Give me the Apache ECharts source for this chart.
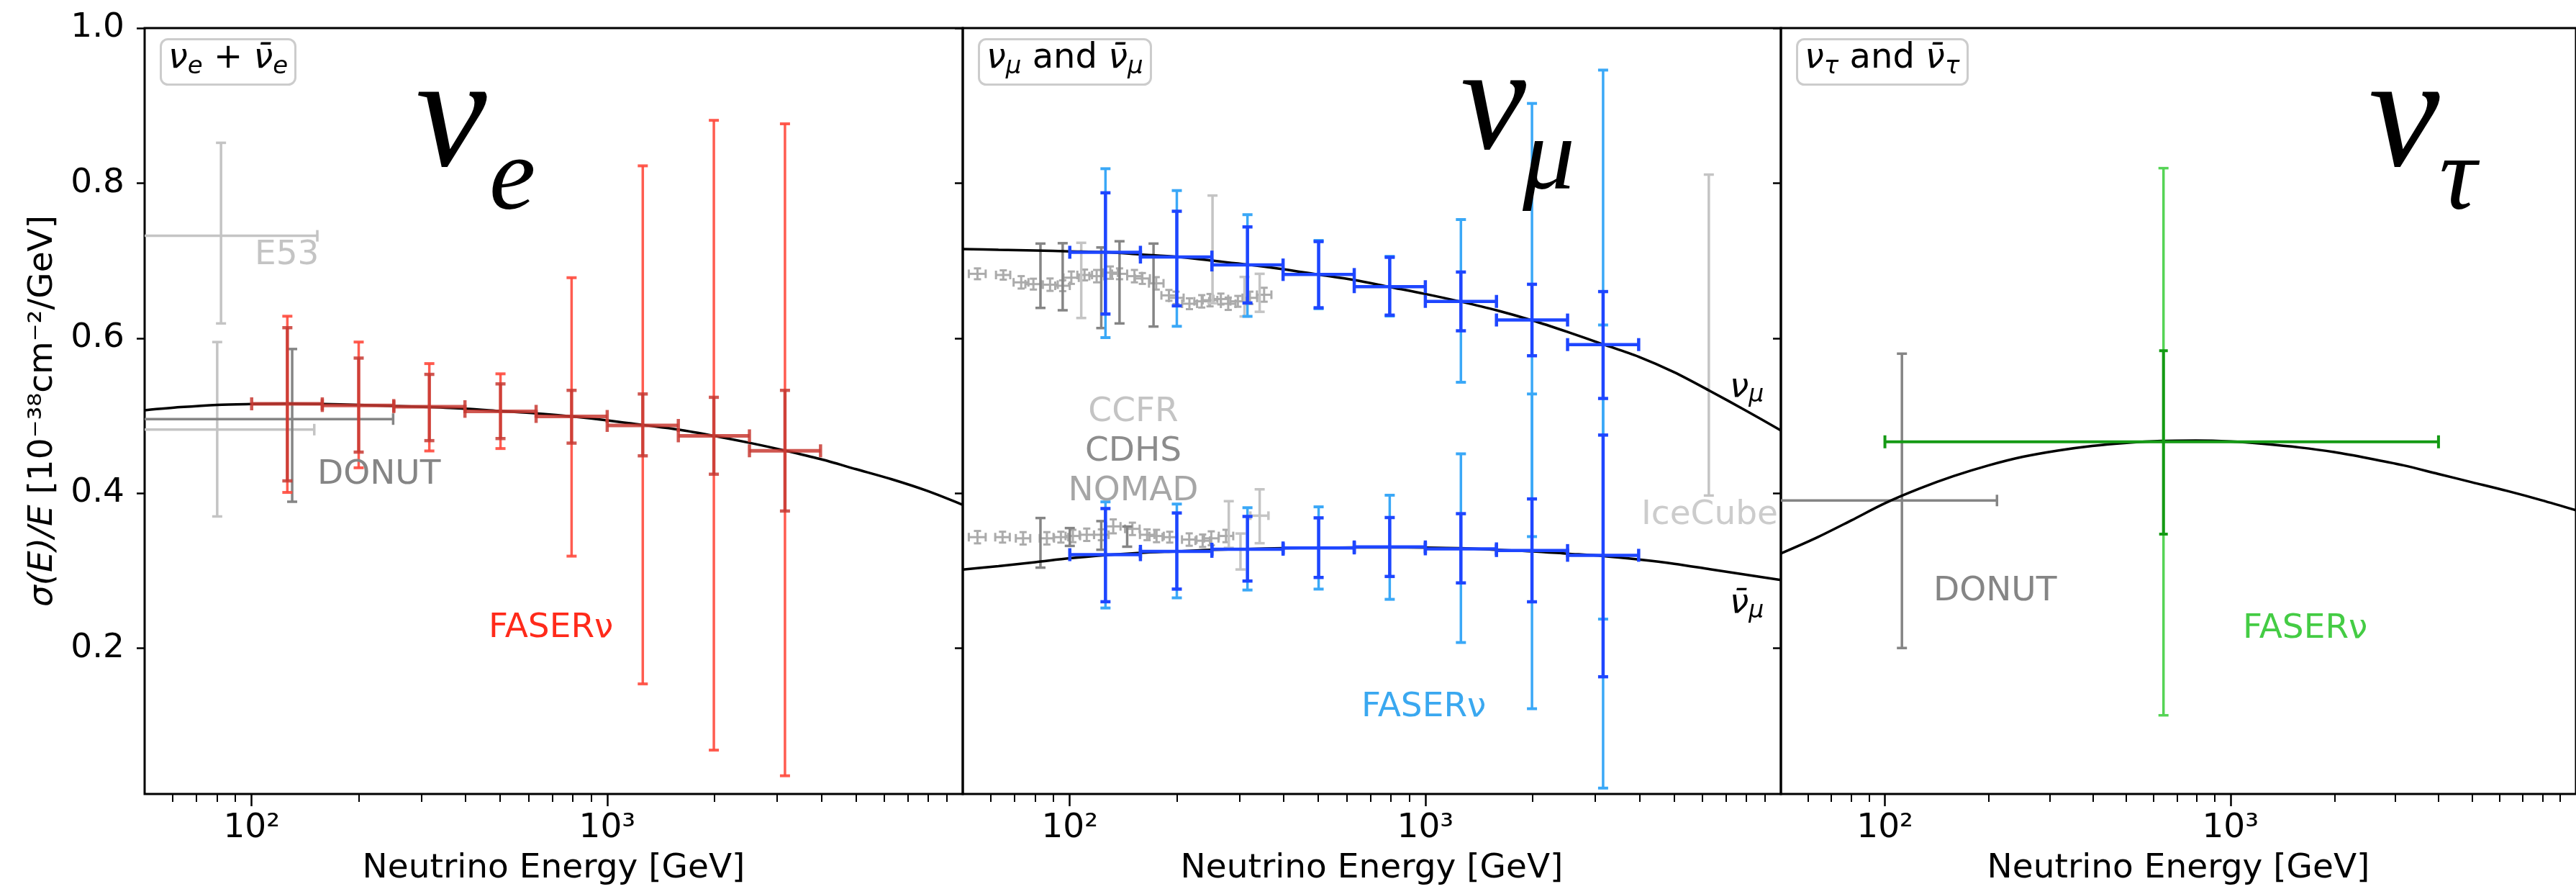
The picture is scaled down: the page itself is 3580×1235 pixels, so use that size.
<!DOCTYPE html>
<html><head><meta charset="utf-8">
<script src="https://cdn.jsdelivr.net/npm/echarts@6/dist/echarts.min.js"></script>
<style>html,body{margin:0;padding:0;background:#fff}#c{width:3580px;height:1235px}</style>
</head><body><div id="c"></div>
<script>
// ================= DATA =================
// theory curves (sigma/E vs E)
const energyGrid = [50,63,80,100,126,158,200,251,316,398,501,631,794,1000,1259,1585,1995,2512,3162,3981,5012,6310,7943,10000];
const theoryNue   = [0.507,0.511,0.514,0.515,0.5155,0.515,0.514,0.5125,0.511,0.509,0.506,0.503,0.499,0.494,0.488,0.482,0.474,0.465,0.455,0.444,0.431,0.418,0.403,0.385];
const theoryNumu  = [0.715,0.714,0.713,0.712,0.711,0.708,0.705,0.700,0.695,0.689,0.682,0.675,0.666,0.657,0.647,0.636,0.623,0.608,0.592,0.576,0.556,0.532,0.507,0.481];
const theoryNubar = [0.3015,0.306,0.311,0.316,0.320,0.323,0.325,0.327,0.328,0.329,0.3295,0.330,0.330,0.3298,0.329,0.327,0.325,0.322,0.319,0.3145,0.309,0.302,0.295,0.288];
const theoryNutau = [0.3223,0.342,0.365,0.387,0.406,0.422,0.436,0.447,0.455,0.461,0.465,0.4675,0.468,0.4668,0.4635,0.459,0.453,0.445,0.436,0.425,0.414,0.403,0.391,0.378];

// FASERnu energy bins
const binCenter = [126,200,316,501,794,1259,1995,3162];
const binLow    = [100,158,251,398,631,1000,1585,2512];
const binHigh   = [158,251,398,631,1000,1585,2512,3981];

// FASERnu nu_e
const faserNueVal    = [0.5153,0.5131,0.5116,0.5056,0.499,0.4874,0.474,0.4547];
const faserNueStatLo = [0.4159,0.453,0.4678,0.4705,0.4646,0.4482,0.4245,0.377];
const faserNueStatHi = [0.6135,0.5743,0.5533,0.541,0.5327,0.528,0.5237,0.5327];
const faserNueTotLo  = [0.401,0.4328,0.4545,0.4576,0.3188,0.154,0.0686,0.0355];
const faserNueTotHi  = [0.6283,0.595,0.5672,0.554,0.678,0.8223,0.881,0.8765];

// FASERnu nu_mu
const faserNumuVal    = [0.7108,0.7046,0.6944,0.6821,0.6664,0.6474,0.6234,0.5917];
const faserNumuStatLo = [0.6311,0.6417,0.6454,0.6392,0.6297,0.6095,0.5773,0.5222];
const faserNumuStatHi = [0.7875,0.7637,0.7435,0.7246,0.7043,0.6853,0.6695,0.6601];
const faserNumuTotLo  = [0.6007,0.6153,0.6281,0.638,0.6285,0.5431,0.344,0.2376];
const faserNumuTotHi  = [0.8186,0.7904,0.7593,0.726,0.7055,0.753,0.9028,0.9458];

// FASERnu anti-nu_mu
const faserNubarVal    = [0.3207,0.325,0.3277,0.3294,0.3307,0.3282,0.326,0.3199];
const faserNubarStatLo = [0.26,0.2763,0.2867,0.2913,0.2926,0.2843,0.2599,0.1632];
const faserNubarStatHi = [0.3802,0.3745,0.37,0.3682,0.3686,0.3736,0.3926,0.475];
const faserNubarTotLo  = [0.2519,0.265,0.2751,0.2763,0.2631,0.2074,0.122,0.0196];
const faserNubarTotHi  = [0.3888,0.386,0.3813,0.3824,0.3974,0.4508,0.528,0.617];

// FASERnu nu_tau
const faserNutauE = [640], faserNutauElo = [100], faserNutauEhi = [4000];
const faserNutauVal = [0.4663];
const faserNutauStatLo = [0.3472], faserNutauStatHi = [0.5838];
const faserNutauTotLo = [0.1135], faserNutauTotHi = [0.8193];

// E53 (nu_e)
const e53E = [82,80], e53Val = [0.732,0.482], e53Elo = [40,40], e53Ehi = [153,150], e53Lo = [0.619,0.370], e53Hi = [0.852,0.595];
// DONUT nu_e
const donutNueE = [130], donutNueVal = [0.4956], donutNueElo = [10], donutNueEhi = [250], donutNueLo = [0.389], donutNueHi = [0.586];
// DONUT nu_tau
const donutNutauE = [112], donutNutauVal = [0.3906], donutNutauElo = [12], donutNutauEhi = [211], donutNutauLo = [0.2003], donutNutauHi = [0.58];

// NOMAD nu
const nomadNuE   = [55,65,73,79,88,95.5,101,110,119,130,138,152,160,175,190,199,217,235,248,266,279,297,321,352];
const nomadNuVal = [0.683,0.6815,0.672,0.6697,0.669,0.6676,0.678,0.6815,0.680,0.6845,0.683,0.680,0.677,0.6707,0.6552,0.652,0.6444,0.6475,0.649,0.6505,0.6444,0.6475,0.652,0.656];
const nomadNuElo = [52,62,69.5,75,84,91,96,105,113.5,124,131.5,145,152.5,167,181,190,207,224,236.5,253.5,266,283,306,336];
const nomadNuEhi = [58,68,76.5,83,92.5,100,106,115.5,125,136.5,145,159.5,168,183.5,199.5,209,228,246.5,260,279,292.5,311.5,336.5,369];
const nomadNuErr = [0.007,0.006,0.008,0.007,0.008,0.007,0.008,0.007,0.008,0.008,0.007,0.008,0.007,0.008,0.007,0.008,0.007,0.008,0.008,0.007,0.008,0.007,0.008,0.009];
// CDHS nu
const cdhsNuE = [82.7,95.5,122.6,138,172], cdhsNuVal = [0.680,0.679,0.665,0.672,0.668];
const cdhsNuLo = [0.639,0.636,0.613,0.619,0.615], cdhsNuHi = [0.722,0.7225,0.717,0.725,0.722];
// CCFR nu
const ccfrNuE = [107.7,252,310,342], ccfrNuVal = [0.675,0.714,0.654,0.658];
const ccfrNuLo = [0.626,0.645,0.628,0.634], ccfrNuHi = [0.723,0.784,0.679,0.683];
// NOMAD anti-nu
const nomadNbE   = [55,64.7,73.9,86.2,94.4,102,111.6,122.7,132.5,150,165,175.4,191,216.7,236.4,250,275];
const nomadNbVal = [0.3433,0.3433,0.3418,0.3418,0.3433,0.3448,0.3464,0.3464,0.3572,0.354,0.3464,0.3448,0.3433,0.3402,0.3387,0.3418,0.3448];
const nomadNbElo = [52,61.7,70.5,82.3,90,97.3,106.5,117,126.5,143,157.5,167.5,182.3,206.8,225.6,238.6,262.5];
const nomadNbEhi = [58,67.8,77.4,90.3,99,106.9,117,128.6,138.9,157.2,173,183.8,200.2,227.2,247.8,262,288.2];
const nomadNbErr = [0.008,0.007,0.008,0.008,0.007,0.008,0.008,0.007,0.009,0.008,0.007,0.008,0.007,0.008,0.008,0.009,0.008];
// CDHS anti-nu
const cdhsNbE = [82.7,100,122.6,145], cdhsNbVal = [0.337,0.343,0.345,0.344];
const cdhsNbLo = [0.304,0.332,0.327,0.331], cdhsNbHi = [0.368,0.355,0.364,0.357];
// CCFR anti-nu
const ccfrNbE = [280,302,342], ccfrNbVal = [0.360,0.325,0.371];
const ccfrNbElo = [280,302,322], ccfrNbEhi = [280,302,362];
const ccfrNbLo = [0.3295,0.3016,0.3355], ccfrNbHi = [0.3897,0.348,0.405];
// IceCube
const iceE = [6270], iceVal = [0.604], iceLo = [0.397], iceHi = [0.811];

// axis ticks
const yTicks = [0.2,0.4,0.6,0.8,1.0];
const xMajorTicks = [100,1000];
const xMinorTicks = [60,70,80,90,200,300,400,500,600,700,800,900,2000,3000,4000,5000,6000,7000,8000,9000];
const xTickText = {100:'10\u00B2', 1000:'10\u00B3'};

// ================= HELPERS =================
function rows(E, V, Elo, Ehi, Lo, Hi) {
  return E.map((e, i) => [e, V[i], Elo ? Elo[i] : e, Ehi ? Ehi[i] : e, Lo[i], Hi[i]]);
}
function rowsErr(E, V, Elo, Ehi, Err) {
  return E.map((e, i) => [e, V[i], Elo[i], Ehi[i], V[i] - Err[i], V[i] + Err[i]]);
}
function curve(vals) { return energyGrid.map((e, i) => [e, vals[i]]); }

function errSeries(panel, data, o) {
  return {
    type: 'custom', xAxisIndex: panel, yAxisIndex: panel, clip: true, silent: true,
    z: o.z || 2, data: data, encode: {x: 0, y: 1},
    renderItem: function (params, api) {
      const E = api.value(0), v = api.value(1), e0 = api.value(2), e1 = api.value(3), v0 = api.value(4), v1 = api.value(5);
      const ch = [];
      const st = {stroke: o.color, lineWidth: o.lw, opacity: o.opacity == null ? 1 : o.opacity, lineCap: 'butt'};
      if (v0 !== v1) {
        const a = api.coord([E, v0]), b = api.coord([E, v1]);
        ch.push({type: 'line', shape: {x1: a[0], y1: a[1], x2: b[0], y2: b[1]}, style: st});
        if (o.cap) {
          ch.push({type: 'line', shape: {x1: a[0] - o.cap, y1: a[1], x2: a[0] + o.cap, y2: a[1]}, style: Object.assign({}, st, {lineWidth: o.capLw || o.lw})});
          ch.push({type: 'line', shape: {x1: b[0] - o.cap, y1: b[1], x2: b[0] + o.cap, y2: b[1]}, style: Object.assign({}, st, {lineWidth: o.capLw || o.lw})});
        }
      }
      if (o.xbar && e0 !== e1) {
        const c = api.coord([e0, v]), d = api.coord([e1, v]);
        const xs = Object.assign({}, st, {lineWidth: o.xlw || o.lw});
        ch.push({type: 'line', shape: {x1: c[0], y1: c[1], x2: d[0], y2: d[1]}, style: xs});
        if (o.xcap) {
          const cs = Object.assign({}, st, {lineWidth: o.xcapLw || o.lw});
          ch.push({type: 'line', shape: {x1: c[0], y1: c[1] - o.xcap, x2: c[0], y2: c[1] + o.xcap}, style: cs});
          ch.push({type: 'line', shape: {x1: d[0], y1: d[1] - o.xcap, x2: d[0], y2: d[1] + o.xcap}, style: cs});
        }
      }
      return {type: 'group', children: ch};
    }
  };
}
function lineSeries(panel, vals) {
  return {type: 'line', xAxisIndex: panel, yAxisIndex: panel, data: curve(vals), showSymbol: false, symbol: 'none',
    smooth: 0.3, clip: true, silent: true, z: 3, lineStyle: {color: '#000', width: 3.5}};
}

// ================= OPTION =================
const FONT = 'DejaVu Sans';
const FS = 47;
const gridLefts = [201, 1338, 2475];
const grids = gridLefts.map(l => ({left: l, top: 39, width: 1137, height: 1067, show: true, borderColor: '#000', borderWidth: 3, backgroundColor: 'rgba(0,0,0,0)'}));

const xAxes = [];
gridLefts.forEach((l, i) => {
  xAxes.push({
    type: 'log', logBase: 10, gridIndex: i, min: 50, max: 10000,
    axisLine: {show: false},
    axisTick: {show: true, length: 17, customValues: xMajorTicks, lineStyle: {color: '#000', width: 2.5}},
    axisLabel: {show: true, customValues: xMajorTicks, margin: 24, fontSize: FS, fontFamily: FONT, color: '#000',
      formatter: v => xTickText[Math.round(v)] || ''},
    splitLine: {show: false}, minorTick: {show: false},
    name: 'Neutrino Energy [GeV]', nameLocation: 'middle', nameGap: 80,
    nameTextStyle: {fontSize: FS, fontFamily: FONT, color: '#000'}
  });
});
gridLefts.forEach((l, i) => {
  xAxes.push({
    type: 'log', logBase: 10, gridIndex: i, min: 50, max: 10000, position: 'bottom',
    axisLine: {show: false},
    axisTick: {show: true, length: 11, customValues: xMinorTicks, lineStyle: {color: '#000', width: 2}},
    axisLabel: {show: false}, splitLine: {show: false}
  });
});
const yAxes = gridLefts.map((l, i) => ({
  type: 'value', gridIndex: i, min: 0.012, max: 1.0,
  axisLine: {show: false},
  axisTick: {show: true, length: 11, customValues: yTicks, lineStyle: {color: '#000', width: 2.5}},
  axisLabel: {show: i === 0, customValues: yTicks, margin: 28, fontSize: FS, fontFamily: FONT, color: '#000',
    formatter: v => v.toFixed(1)},
  splitLine: {show: false},
  name: i === 0 ? '{i|\u03C3(E)/E} [10\u207B\u00B3\u2078cm\u207B\u00B2/GeV]' : '',
  nameLocation: 'middle', nameGap: 118,
  nameTextStyle: {fontSize: FS, fontFamily: FONT, color: '#000',
    rich: {i: {fontStyle: 'italic', fontSize: FS, fontFamily: FONT, color: '#000'}}}
}));

const RED_L = '#ff4a3d', RED_D = '#c83a32';
const BLUE_L = '#3aa8f7', BLUE_D = '#1e46ff';
const GRN_L = '#55d455', GRN_D = '#149a14';
const G_LIGHT = '#c4c4c4', G_MID = '#ababab', G_DARK = '#858585';

const series = [
  // panel 1 grey
  errSeries(0, rows(e53E, e53Val, e53Elo, e53Ehi, e53Lo, e53Hi), {color: G_LIGHT, lw: 3.5, cap: 7, xbar: true, xcap: 8, z: 1}),
  errSeries(0, rows(donutNueE, donutNueVal, donutNueElo, donutNueEhi, donutNueLo, donutNueHi), {color: G_DARK, lw: 3.5, cap: 7, xbar: true, xcap: 8, z: 1}),
  lineSeries(0, theoryNue),
  errSeries(0, rows(binCenter, faserNueVal, null, null, faserNueTotLo, faserNueTotHi), {color: RED_L, lw: 3.5, cap: 7, capLw: 4, z: 4, opacity: 0.9}),
  errSeries(0, rows(binCenter, faserNueVal, binLow, binHigh, faserNueStatLo, faserNueStatHi), {color: RED_D, lw: 4.5, cap: 7, xbar: true, xlw: 5, xcap: 9, z: 5, opacity: 0.85}),

  // panel 2 grey
  errSeries(1, rowsErr(nomadNuE, nomadNuVal, nomadNuElo, nomadNuEhi, nomadNuErr), {color: G_MID, lw: 3, cap: 5, xbar: true, xcap: 6, z: 1}),
  errSeries(1, rows(cdhsNuE, cdhsNuVal, null, null, cdhsNuLo, cdhsNuHi), {color: G_DARK, lw: 3.5, cap: 7, z: 1}),
  errSeries(1, rows(ccfrNuE, ccfrNuVal, null, null, ccfrNuLo, ccfrNuHi), {color: G_LIGHT, lw: 3.5, cap: 7, z: 1}),
  errSeries(1, rowsErr(nomadNbE, nomadNbVal, nomadNbElo, nomadNbEhi, nomadNbErr), {color: G_MID, lw: 3, cap: 5, xbar: true, xcap: 6, z: 1}),
  errSeries(1, rows(cdhsNbE, cdhsNbVal, null, null, cdhsNbLo, cdhsNbHi), {color: G_DARK, lw: 3.5, cap: 7, z: 1}),
  errSeries(1, rows(ccfrNbE, ccfrNbVal, ccfrNbElo, ccfrNbEhi, ccfrNbLo, ccfrNbHi), {color: G_LIGHT, lw: 3.5, cap: 7, xbar: true, xcap: 6, z: 1}),
  errSeries(1, rows(iceE, iceVal, null, null, iceLo, iceHi), {color: G_LIGHT, lw: 3.5, cap: 7, z: 1}),
  lineSeries(1, theoryNumu),
  lineSeries(1, theoryNubar),
  errSeries(1, rows(binCenter, faserNumuVal, null, null, faserNumuTotLo, faserNumuTotHi), {color: BLUE_L, lw: 3.5, cap: 7, capLw: 4, z: 4}),
  errSeries(1, rows(binCenter, faserNubarVal, null, null, faserNubarTotLo, faserNubarTotHi), {color: BLUE_L, lw: 3.5, cap: 7, capLw: 4, z: 4}),
  errSeries(1, rows(binCenter, faserNumuVal, binLow, binHigh, faserNumuStatLo, faserNumuStatHi), {color: BLUE_D, lw: 4.5, cap: 7, xbar: true, xlw: 4.5, xcap: 9, z: 5}),
  errSeries(1, rows(binCenter, faserNubarVal, binLow, binHigh, faserNubarStatLo, faserNubarStatHi), {color: BLUE_D, lw: 4.5, cap: 7, xbar: true, xlw: 4.5, xcap: 9, z: 5}),

  // panel 3
  errSeries(2, rows(donutNutauE, donutNutauVal, donutNutauElo, donutNutauEhi, donutNutauLo, donutNutauHi), {color: G_DARK, lw: 3.5, cap: 7, xbar: true, xcap: 8, z: 1}),
  lineSeries(2, theoryNutau),
  errSeries(2, rows(faserNutauE, faserNutauVal, null, null, faserNutauTotLo, faserNutauTotHi), {color: GRN_L, lw: 3.5, cap: 7, z: 4}),
  errSeries(2, rows(faserNutauE, faserNutauVal, faserNutauElo, faserNutauEhi, faserNutauStatLo, faserNutauStatHi), {color: GRN_D, lw: 4, cap: 6, xbar: true, xlw: 4, xcap: 9, z: 5})
];

const boxRich = {
  v: {fontStyle: 'italic', fontWeight: 'normal', fontSize: 48, fontFamily: FONT, color: '#000', lineHeight: 56},
  p: {fontStyle: 'normal', fontWeight: 'normal', fontSize: 48, fontFamily: FONT, color: '#000', lineHeight: 56},
  s: {fontStyle: 'italic', fontWeight: 'normal', fontSize: 34, fontFamily: FONT, color: '#000', lineHeight: 34, verticalAlign: 'bottom'}
};
function boxTitle(left, text) {
  return {left: left, top: 50, text: text, padding: [4, 11, 8, 11], borderColor: '#cccccc', borderWidth: 3, borderRadius: 10,
    backgroundColor: '#fff', textStyle: {rich: boxRich, fontSize: 48, fontWeight: 'normal', fontFamily: FONT, color: '#000'}};
}
const NU = '\u03BD', NUBAR = '\u03BD\u0304';
const titles = [
  boxTitle(223, '{v|' + NU + '}{s|e}{p| + }{v|' + NUBAR + '}{s|e}'),
  boxTitle(1360, '{v|' + NU + '}{s|\u03BC}{p| and }{v|' + NUBAR + '}{s|\u03BC}'),
  boxTitle(2497, '{v|' + NU + '}{s|\u03C4}{p| and }{v|' + NUBAR + '}{s|\u03C4}')
];

function note(x, y, text, color, align) {
  return {type: 'text', x: x, y: y, z: 50, silent: true,
    style: {text: text, fill: color, fontSize: FS, fontFamily: FONT, align: align || 'left', verticalAlign: 'top'}};
}
function big(x, y, text, size) {
  return {type: 'text', x: x, y: y, z: 60, silent: true,
    style: {text: text, fill: '#000', fontSize: size, fontFamily: 'Liberation Serif', fontStyle: 'italic', align: 'left', verticalAlign: 'middle'}};
}
const curveRich = {
  v: {fontStyle: 'italic', fontSize: 47, fontFamily: FONT, color: '#000', lineHeight: 54},
  s: {fontStyle: 'italic', fontSize: 33, fontFamily: FONT, color: '#000', lineHeight: 33, verticalAlign: 'bottom'}
};
const graphics = [
  note(354, 331, 'E53', G_LIGHT),
  note(441, 636, 'DONUT', G_DARK),
  note(679, 849, 'FASER\u03BD', '#ff2a1a'),
  note(1575, 549, 'CCFR', '#c4c4c4', 'center'),
  note(1575, 604, 'CDHS', '#8c8c8c', 'center'),
  note(1575, 659, 'NOMAD', '#a6a6a6', 'center'),
  note(1892, 959, 'FASER\u03BD', '#3aa8f0'),
  note(2281, 692, 'IceCube', '#cccccc'),
  note(2687, 798, 'DONUT', G_DARK),
  note(3117, 850, 'FASER\u03BD', '#44cc44'),
  {type: 'text', x: 2404, y: 512, z: 50, style: {text: '{v|' + NU + '}{s|\u03BC}', rich: curveRich, verticalAlign: 'top'}},
  {type: 'text', x: 2404, y: 812, z: 50, style: {text: '{v|' + NUBAR + '}{s|\u03BC}', rich: curveRich, verticalAlign: 'top'}},
  big(578, 172, NU, 222), big(680, 252, 'e', 145),
  big(2030, 152, NU, 205), big(2116, 224, '\u03BC', 145),
  big(3292, 172, NU, 222), big(3390, 252, '\u03C4', 145)
];

const chart = echarts.init(document.getElementById('c'), null, {renderer: 'canvas'});
chart.setOption({
  animation: false,
  backgroundColor: '#fff',
  textStyle: {fontFamily: FONT},
  title: titles,
  grid: grids,
  xAxis: xAxes,
  yAxis: yAxes,
  series: series,
  graphic: graphics
});
</script>
</body></html>
